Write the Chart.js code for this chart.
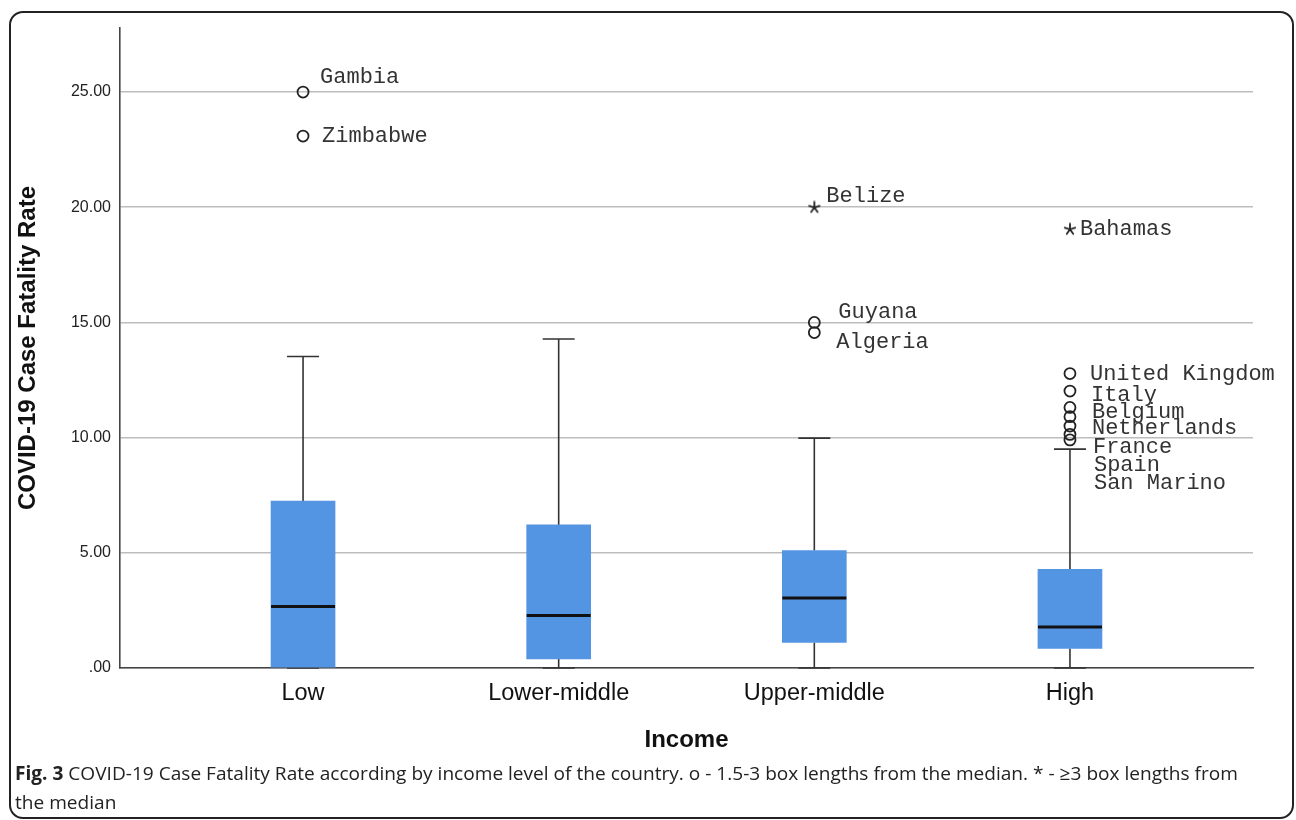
<!DOCTYPE html>
<html>
<head>
<meta charset="utf-8">
<script src="https://cdn.jsdelivr.net/npm/chart.js@4.4.1/dist/chart.umd.min.js"></script>
<style>
  html, body { margin: 0; padding: 0; background: #fff; }
  #wrap { position: relative; width: 1296px; height: 820px; overflow: hidden; }
  #frame { position: absolute; left: 9px; top: 11px; width: 1285px; height: 808px; border: 2px solid #222; border-radius: 14px; box-sizing: border-box; }
  canvas { position: absolute; left: 0; top: 0; }
  #cap { position: absolute; left: 15px; top: 759px; font-family: "Open Sans", sans-serif; font-size: 19px; line-height: 29px; color: #222; white-space: nowrap; }
  #cap span { display: inline-block; transform-origin: left center; }
</style>
</head>
<body>
<div id="wrap">
  <div id="frame"></div>
  <canvas id="c" width="1296" height="820"></canvas>
  <div id="cap"><span id="l1"><b>Fig. 3</b> COVID-19 Case Fatality Rate according by income level of the country. o - 1.5-3 box lengths from the median. * - ≥3 box lengths from</span><br><span id="l2">the median</span></div>
</div>
<script>
// ---- data ----
const categories = ['Low', 'Lower-middle', 'Upper-middle', 'High'];
const q1 = [0.00, 0.39, 1.11, 0.85];
const median = [2.67, 2.28, 3.04, 1.78];
const q3 = [7.25, 6.21, 5.10, 4.28];
const whiskerLow = [0.00, 0.00, 0.00, 0.00];
const whiskerHigh = [13.52, 14.28, 9.98, 9.50];

const outlierNames = ['Gambia', 'Zimbabwe', 'Belize', 'Guyana', 'Algeria', 'Bahamas',
  'United Kingdom', 'Italy', 'Belgium', 'Netherlands', 'France', 'Spain', 'San Marino'];
const outlierCategory = [0, 0, 2, 2, 2, 3, 3, 3, 3, 3, 3, 3, 3];
const outlierValues = [25.00, 23.09, 19.99, 15.00, 14.56, 19.04, 12.78, 12.02, 11.31, 10.91, 10.50, 10.14, 9.90];
const outlierExtreme = [false, false, true, false, false, true, false, false, false, false, false, false, false];

const yTickValues = [0, 5, 10, 15, 20, 25];

// label placement (px offsets from the marker)
const labelOffsets = {
  'Gambia': [17, -15], 'Zimbabwe': [19, 0], 'Belize': [12, -11], 'Guyana': [24, -10], 'Algeria': [22, 10],
  'Bahamas': [10, 0], 'United Kingdom': [20, 1], 'Italy': [21, 4], 'Belgium': [22, 5], 'Netherlands': [22, 12],
  'France': [23, 21], 'Spain': [24, 31], 'San Marino': [24, 43]
};

// small asterisk marker for extreme values
const starImg = (() => {
  const c = document.createElement('canvas');
  c.width = 14; c.height = 14;
  const g = c.getContext('2d');
  g.strokeStyle = '#222';
  g.lineWidth = 1.8;
  g.lineCap = 'round';
  g.beginPath();
  for (let k = 0; k < 5; k++) {
    const a = -Math.PI / 2 + k * 2 * Math.PI / 5;
    g.moveTo(7, 7);
    g.lineTo(7 + 5.5 * Math.cos(a), 7 + 5.5 * Math.sin(a));
  }
  g.stroke();
  return c;
})();

const boxPlugin = {
  id: 'boxParts',
  beforeDatasetsDraw(chart) {
    const {ctx, scales: {x, y}} = chart;
    ctx.save();
    ctx.strokeStyle = '#333';
    ctx.lineWidth = 1.6;
    categories.forEach((c, i) => {
      const cx = x.getPixelForValue(i + 1);
      const half = 16;
      const yq1 = y.getPixelForValue(q1[i]), yq3 = y.getPixelForValue(q3[i]);
      const yl = y.getPixelForValue(whiskerLow[i]), yh = y.getPixelForValue(whiskerHigh[i]);
      ctx.beginPath();
      ctx.moveTo(cx, yq3); ctx.lineTo(cx, yh);
      ctx.moveTo(cx - half, yh); ctx.lineTo(cx + half, yh);
      ctx.moveTo(cx, yq1); ctx.lineTo(cx, yl);
      ctx.moveTo(cx - half, yl); ctx.lineTo(cx + half, yl);
      ctx.stroke();
    });
    ctx.restore();
  },
  afterDatasetsDraw(chart) {
    const {ctx, scales: {x, y}} = chart;
    ctx.save();
    ctx.strokeStyle = '#111';
    ctx.lineWidth = 3;
    const barMeta = chart.getDatasetMeta(0);
    categories.forEach((c, i) => {
      const bar = barMeta.data[i];
      const w = bar.width;
      const ym = y.getPixelForValue(median[i]);
      ctx.beginPath();
      ctx.moveTo(bar.x - w / 2, ym); ctx.lineTo(bar.x + w / 2, ym);
      ctx.stroke();
    });
    // outlier labels
    const meta = chart.getDatasetMeta(1);
    ctx.font = '22px "Liberation Mono", "DejaVu Sans Mono", monospace';
    ctx.fillStyle = '#333';
    ctx.textBaseline = 'middle';
    ctx.textAlign = 'left';
    outlierNames.forEach((n, i) => {
      const p = meta.data[i];
      const off = labelOffsets[n] || [15, 0];
      ctx.fillText(n, p.x + off[0], p.y + off[1]);
    });
    ctx.restore();
  }
};

new Chart(document.getElementById('c'), {
  type: 'bar',
  data: {
    datasets: [
      {
        type: 'bar',
        data: categories.map((c, i) => ({x: i + 1, y: [q1[i], q3[i]]})),
        backgroundColor: '#5495E3',
        borderWidth: 0,
        barThickness: 64,
        borderSkipped: false
      },
      {
        type: 'scatter',
        data: outlierValues.map((v, i) => ({x: outlierCategory[i] + 1, y: v})),
        pointStyle: ctx => outlierExtreme[ctx.dataIndex] ? starImg : 'circle',
        radius: 5.5,
        borderColor: '#222',
        backgroundColor: 'rgba(0,0,0,0)',
        borderWidth: 1.8
      }
    ]
  },
  options: {
    responsive: false,
    animation: false,
    devicePixelRatio: 1,
    layout: { padding: { left: 14, top: 28, right: 43, bottom: 65 } },
    plugins: { legend: { display: false }, tooltip: { enabled: false } },
    scales: {
      x: {
        type: 'linear',
        min: 0.284,
        max: 4.716,
        offset: false,
        grid: { display: false, drawTicks: false },
        border: { display: true, color: '#444', width: 1.6 },
        afterBuildTicks: s => { s.ticks = categories.map((c, i) => ({value: i + 1})); },
        afterFit: s => { s.height = 87; },
        ticks: {
          color: '#111',
          padding: 11,
          maxRotation: 0,
          autoSkip: false,
          font: { family: '"Liberation Sans", Arial, sans-serif', size: 23.5 },
          callback: v => categories[v - 1]
        },
        title: {
          display: true,
          text: 'Income',
          color: '#111',
          padding: { top: 0, bottom: 0 },
          font: { family: '"Liberation Sans", Arial, sans-serif', size: 24, weight: 'bold' }
        }
      },
      y: {
        type: 'linear',
        min: 0,
        max: 27.78,
        afterBuildTicks: s => { s.ticks = yTickValues.map(v => ({value: v})); },
        afterFit: s => { s.width = 106; },
        grid: { color: '#BDBDBD', lineWidth: 1.5, drawTicks: false },
        border: { display: true, color: '#444', width: 1.6 },
        ticks: {
          color: '#222',
          padding: 9,
          font: { family: '"Liberation Sans", Arial, sans-serif', size: 16 },
          callback: v => v === 0 ? '.00' : v.toFixed(2)
        },
        title: {
          display: true,
          text: 'COVID-19 Case Fatality Rate',
          color: '#111',
          padding: { top: 0, bottom: 0 },
          font: { family: '"Liberation Sans", Arial, sans-serif', size: 24, weight: 'bold' }
        }
      }
    }
  },
  plugins: [boxPlugin]
});

// fit caption line to the reference width
const l1 = document.getElementById('l1'), l2 = document.getElementById('l2');
const sx = 1223 / l1.getBoundingClientRect().width;
l1.style.transform = 'scaleX(' + sx + ')';
l2.style.transform = 'scaleX(' + sx + ')';
</script>
</body>
</html>
